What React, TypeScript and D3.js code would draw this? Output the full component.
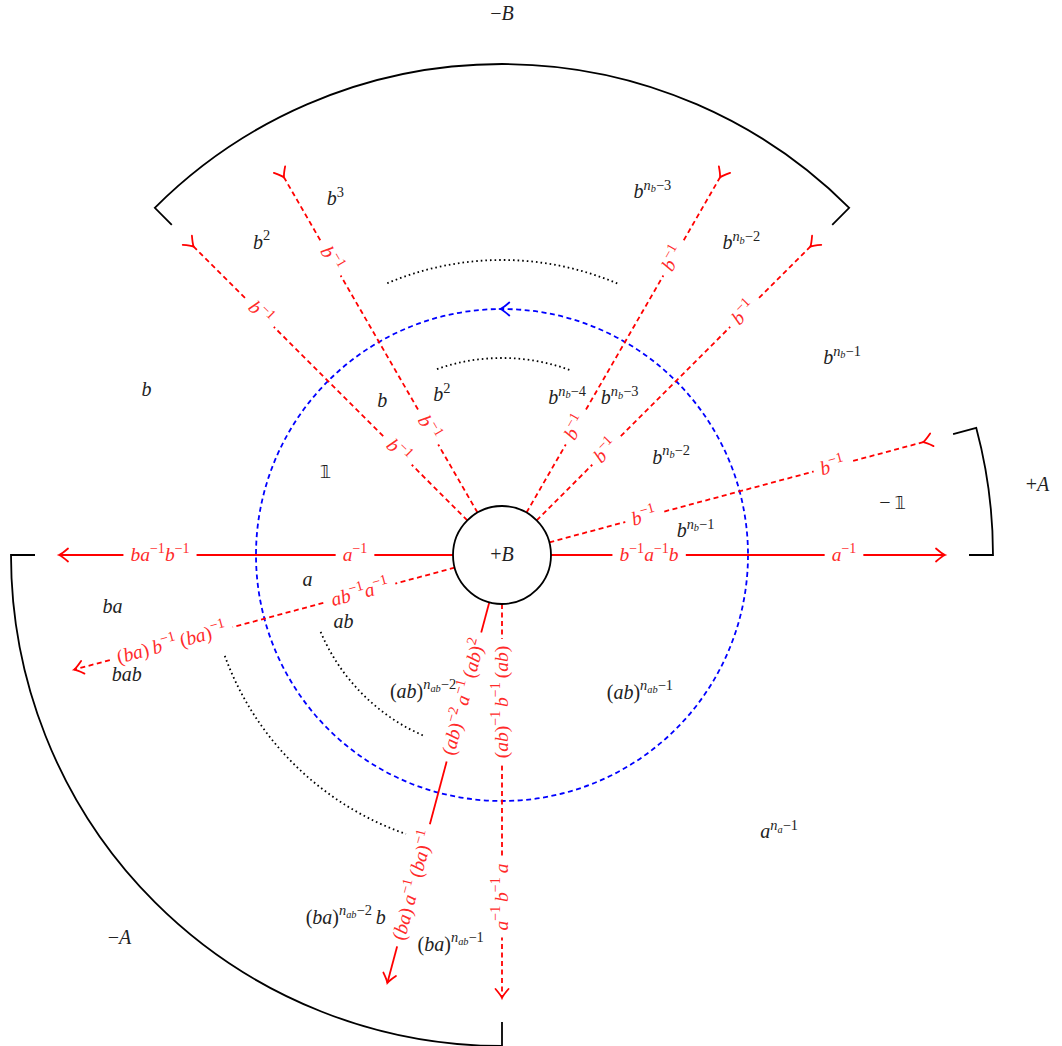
import React, { useEffect, useRef } from 'react';
import * as d3 from 'd3';

const W = 1062;
const H = 1046;
const CX = 502;
const CY = 555;
const FONT = "'Liberation Serif', 'DejaVu Serif', serif";

// red rays leaving the +B disc (angle in degrees, counter-clockwise from east)
const rayAngles = [180, 0, 195, 15, 255, 270, 135, 120, 60, 45];
const rayDashed = [false, false, true, true, false, true, true, true, true, true];
const rayTailArrow = [false, false, false, true, false, false, true, true, true, true];
const rayInnerText = [
  'a^{-1}',
  'b^{-1}a^{-1}b',
  'ab^{-1}a^{-1}',
  'b^{-1}',
  '(ab)^{-2}\u2009a^{-1}\u2009(ab)^{2}',
  '(ab)^{-1}\u2009b^{-1}\u2009(ab)',
  'b^{-1}',
  'b^{-1}',
  'b^{-1}',
  'b^{-1}',
];
const rayOuterText = [
  'ba^{-1}b^{-1}',
  'a^{-1}',
  '(ba)\u2009b^{-1}\u2009(ba)^{-1}',
  'b^{-1}',
  '(ba)\u2009a^{-1}\u2009(ba)^{-1}',
  'a^{-1}\u2009b^{-1}\u2009a',
  'b^{-1}',
  'b^{-1}',
  'b^{-1}',
  'b^{-1}',
];

// black cell labels, polar placement
const cellText = [
  'b^3', 'b^2', 'b', 'b', 'b^2', '\u{1D7D9}',
  'b^{n_b-3}', 'b^{n_b-2}', 'b^{n_b-1}', 'b^{n_b-4}', 'b^{n_b-3}', 'b^{n_b-2}', 'b^{n_b-1}',
  '-\u2009\u{1D7D9}', 'a', 'ab', 'ba', 'bab',
  '(ab)^{n_{ab}-2}', '(ab)^{n_{ab}-1}', 'a^{n_a-1}',
  '(ba)^{n_{ab}-2}\u2009b', '(ba)^{n_{ab}-1}',
  '-A', '+A', '-B', '+B',
];
const cellAngle = [
  115.1, 127.6, 155.1, 127.9, 110.6, 154.9,
  67.5, 52.5, 30.1, 67.5, 53.1, 29.9, 7.1,
  7.6, 187.3, 202.8, 187.6, 197.7,
  240, 315, 315,
  246.7, 262.5,
  225, 7.4, 90, 0,
];
const cellRadius = [
  393, 394, 392, 195, 171, 195,
  393, 393, 393, 170, 196, 195, 195,
  394, 196, 172, 393, 394,
  158, 195, 392,
  395, 393,
  541, 540, 541, 0,
];

// boundary arcs [from, to] in degrees
const boundaryFrom = [45, 0, 180];
const boundaryTo = [135, 15, 270];

// dotted arcs
const dottedFrom = [67, 70, 203, 200];
const dottedTo = [113, 110, 247, 251];
const dottedRing = ['outer', 'inner', 'inner', 'outer'];

const R_DISC = 49;
const R_BLUE = 246;
const R_RAY = 443;
const R_BOUND = 491;
const R_LABEL_IN = 147;
const R_LABEL_OUT = 342;
const R_DOT = { inner: 197, outer: 295 } as Record<string, number>;

const rad = (deg: number) => (deg * Math.PI) / 180;
const polar = (deg: number, r: number): [number, number] => {
  const [x, y] = d3.pointRadial(rad(90 - deg), r);
  return [CX + x, CY + y];
};

type Seg = { t: string; size: number; y: number; it: boolean; bb: boolean };

function parseTex(s: string, size: number, y: number, out: Seg[]) {
  const ch = Array.from(s);
  let i = 0;
  while (i < ch.length) {
    const c = ch[i];
    if (c === '^' || c === '_') {
      i++;
      let g = '';
      if (ch[i] === '{') {
        let depth = 1;
        i++;
        while (i < ch.length) {
          if (ch[i] === '{') depth++;
          if (ch[i] === '}') {
            depth--;
            if (depth === 0) break;
          }
          g += ch[i];
          i++;
        }
        i++;
      } else {
        g = ch[i];
        i++;
      }
      const ny = c === '^' ? y - size * 0.42 : y + size * 0.2;
      parseTex(g, size * 0.72, ny, out);
      continue;
    }
    const t = c === '-' ? '\u2212' : c;
    const it = /[a-zA-Z]/.test(c);
    const bb = c.length > 1;
    const last = out[out.length - 1];
    if (last && last.size === size && last.y === y && last.it === it && last.bb === bb) last.t += t;
    else out.push({ t, size, y, it, bb });
    i++;
  }
}

function addTex(g: any, tex: string, size: number, color: string) {
  const segs: Seg[] = [];
  parseTex(tex, size, 0, segs);
  const text = g
    .append('text')
    .attr('text-anchor', 'middle')
    .attr('x', 0)
    .attr('y', size * 0.3)
    .attr('fill', color)
    .style('font-family', FONT)
    .style('font-size', size + 'px');
  let cur = 0;
  segs.forEach((s) => {
    const ts = text
      .append('tspan')
      .attr('dy', s.y - cur)
      .style('font-size', s.size + 'px')
      .style('font-style', s.it ? 'italic' : 'normal')
      .text(s.t);
    if (s.bb) ts.style('font-family', "'DejaVu Sans', sans-serif").style('font-size', s.size * 0.9 + 'px');
    cur = s.y;
  });
  return text;
}

function arrowPath(tip: [number, number], u: [number, number]) {
  const n = [-u[1], u[0]];
  const L = 9;
  const Wd = 6.5;
  const p = d3.path();
  p.moveTo(tip[0] - L * u[0] + Wd * n[0], tip[1] - L * u[1] + Wd * n[1]);
  p.quadraticCurveTo(tip[0] - 3 * u[0] + 1.3 * n[0], tip[1] - 3 * u[1] + 1.3 * n[1], tip[0], tip[1]);
  p.quadraticCurveTo(tip[0] - 3 * u[0] - 1.3 * n[0], tip[1] - 3 * u[1] - 1.3 * n[1], tip[0] - L * u[0] - Wd * n[0], tip[1] - L * u[1] - Wd * n[1]);
  return p.toString();
}

function App() {
  const svgRef = useRef<SVGSVGElement>(null);

  useEffect(() => {
    const svg = d3.select(svgRef.current);
    svg.selectAll('*').remove();

    // boundary arcs with inward ticks
    boundaryFrom.forEach((a0, i) => {
      const a1 = boundaryTo[i];
      const p = d3.path();
      const t0 = polar(a0, R_BOUND - 24);
      const s0 = polar(a0, R_BOUND);
      const t1 = polar(a1, R_BOUND - 24);
      p.moveTo(t0[0], t0[1]);
      p.lineTo(s0[0], s0[1]);
      p.arc(CX, CY, R_BOUND, -rad(a0), -rad(a1), true);
      p.lineTo(t1[0], t1[1]);
      svg.append('path').attr('d', p.toString()).attr('fill', 'none').attr('stroke', '#000').attr('stroke-width', 1.8);
    });

    // dotted arcs
    dottedFrom.forEach((a0, i) => {
      const r = R_DOT[dottedRing[i]];
      const s = polar(a0, r);
      const p = d3.path();
      p.moveTo(s[0], s[1]);
      p.arc(CX, CY, r, -rad(a0), -rad(dottedTo[i]), true);
      svg
        .append('path')
        .attr('d', p.toString())
        .attr('fill', 'none')
        .attr('stroke', '#000')
        .attr('stroke-width', 1.8)
        .attr('stroke-dasharray', '1.6 3');
    });

    // blue dashed circle with arrow at the top
    svg
      .append('circle')
      .attr('cx', CX)
      .attr('cy', CY)
      .attr('r', R_BLUE)
      .attr('fill', 'none')
      .attr('stroke', '#0000ff')
      .attr('stroke-width', 1.8)
      .attr('stroke-dasharray', '5 3.5');
    const blueTip = polar(90.4, R_BLUE);
    svg
      .append('path')
      .attr('d', arrowPath(blueTip, [-1, 0]))
      .attr('fill', 'none')
      .attr('stroke', '#0000ff')
      .attr('stroke-width', 1.8)
      .attr('stroke-linecap', 'round');

    // red rays
    rayAngles.forEach((a, i) => {
      const u: [number, number] = [Math.cos(rad(a)), -Math.sin(rad(a))];
      const start = polar(a, R_DISC);
      const tail = rayTailArrow[i];
      const endR = tail ? R_RAY - 7 : R_RAY;
      const end = polar(a, endR);
      svg
        .append('line')
        .attr('x1', start[0])
        .attr('y1', start[1])
        .attr('x2', end[0])
        .attr('y2', end[1])
        .attr('stroke', '#ff0000')
        .attr('stroke-width', 1.8)
        .attr('stroke-dasharray', rayDashed[i] ? '5 3.5' : null);
      svg
        .append('path')
        .attr('d', arrowPath(end, tail ? [-u[0], -u[1]] : u))
        .attr('fill', 'none')
        .attr('stroke', '#ff0000')
        .attr('stroke-width', 1.8)
        .attr('stroke-linecap', 'round');

      let rot = -a;
      while (rot < -90) rot += 180;
      while (rot >= 90) rot -= 180;
      [
        [R_LABEL_IN, rayInnerText[i]],
        [R_LABEL_OUT, rayOuterText[i]],
      ].forEach(([r, tex]) => {
        const pos = polar(a, r as number);
        const g = svg.append('g').attr('transform', `translate(${pos[0]},${pos[1]}) rotate(${rot})`);
        const text = addTex(g, tex as string, 19.5, '#ff2a2a');
        const bb = (text.node() as SVGTextElement).getBBox();
        g.insert('rect', 'text')
          .attr('x', bb.x - 7)
          .attr('y', -5)
          .attr('width', bb.width + 14)
          .attr('height', 10)
          .attr('fill', '#fff');
      });
    });

    // +B disc
    svg
      .append('circle')
      .attr('cx', CX)
      .attr('cy', CY)
      .attr('r', R_DISC)
      .attr('fill', '#fff')
      .attr('stroke', '#000')
      .attr('stroke-width', 1.8);

    // black labels
    cellText.forEach((tex, i) => {
      const pos = polar(cellAngle[i], cellRadius[i]);
      const g = svg.append('g').attr('transform', `translate(${pos[0]},${pos[1]})`);
      addTex(g, tex, 20, '#222');
    });
  }, []);

  return (
    <svg
      ref={svgRef}
      width={W}
      height={H}
      style={{ position: 'absolute', left: 0, top: 0, display: 'block', background: '#fff' }}
    />
  );
}

export default App;
